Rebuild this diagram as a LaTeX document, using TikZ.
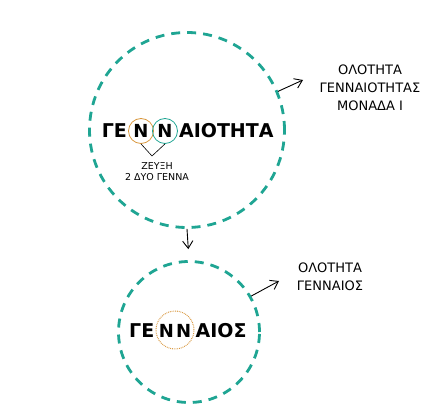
\documentclass[tikz,border=0pt]{standalone}
\usepackage{fontspec}
\setmainfont{DejaVu Sans}
\usetikzlibrary{arrows.meta,positioning}
\definecolor{tealring}{HTML}{1FA593}
\definecolor{ochre}{HTML}{D8963C}

\begin{document}
\begin{tikzpicture}[x=1pt,y=-1pt,
    whole/.style={
      circle,
      draw=tealring,
      line width=2.8pt,
      dash pattern=on 9pt off 7pt,
      inner sep=0pt
    },
    word/.style={
      font=\fontsize{19}{22}\selectfont\bfseries,
      inner sep=0pt,
      text height=14pt,
      text depth=0pt
    },
    ring/.style={
      word,
      font=\fontsize{18}{22}\selectfont\bfseries,
      circle,
      line width=0.8pt,
      minimum size=25pt
    },
    note/.style={
      font=\fontsize{13}{18}\selectfont,
      align=center,
      inner sep=0pt
    },
    small/.style={
      font=\fontsize{9.5}{11}\selectfont,
      align=center,
      inner sep=0pt
    },
    link/.style={
      -{Straight Barb[length=2.6mm,width=3.6mm]},
      draw=black,
      line width=0.9pt
    }
  ]
    \useasboundingbox (0,0) rectangle (437,417);

    \node[whole, minimum size=195pt] (coh) at (187,130) {};
    \node[ring, draw=ochre] (n1) at (141,131) {Ν};
    \node[ring, draw=tealring] (n2) at (165,131) {Ν};
    \node[word, left=1pt of n1] (pre1) {ΓΕ};
    \node[word, right=1pt of n2] (post1) {ΑΙΟΤΗΤΑ};

    \coordinate (vtip) at (152,156);
    \draw[line width=0.6pt] (n1.south) -- (vtip) -- (n2.south);
    \node[small] (tie) at (157,171.5) {ΖΕΥΞΗ\\2 ΔΥΟ ΓΕΝΝΑ};

    \node[whole, minimum size=141pt] (gen) at (189,332) {};
    \node[ring, draw=ochre, densely dotted, line width=1pt, minimum size=38pt] (nn) at (175,330) {Ν\kern2ptΝ};
    \node[word, left=1pt of nn] (pre2) {ΓΕ};
    \node[word, right=1pt of nn] (post2) {ΑΙΟΣ};

    \node[note] (wholeA) at (370,88) {ΟΛΟΤΗΤΑ\\ΓΕΝΝΑΙΟΤΗΤΑΣ\\ΜΟΝΑΔΑ Ι};
    \node[note] (wholeB) at (330,277) {ΟΛΟΤΗΤΑ\\ΓΕΝΝΑΙΟΣ};
    \coordinate (tipA) at (303,80);
    \coordinate (tipB) at (279,281);

    \draw[link] (coh.23) -- (tipA);
    \draw[link] (gen.30) -- (tipB);
    \draw[link, shorten >=11pt] (coh.south) -- (gen.north);
  \end{tikzpicture}
\end{document}
